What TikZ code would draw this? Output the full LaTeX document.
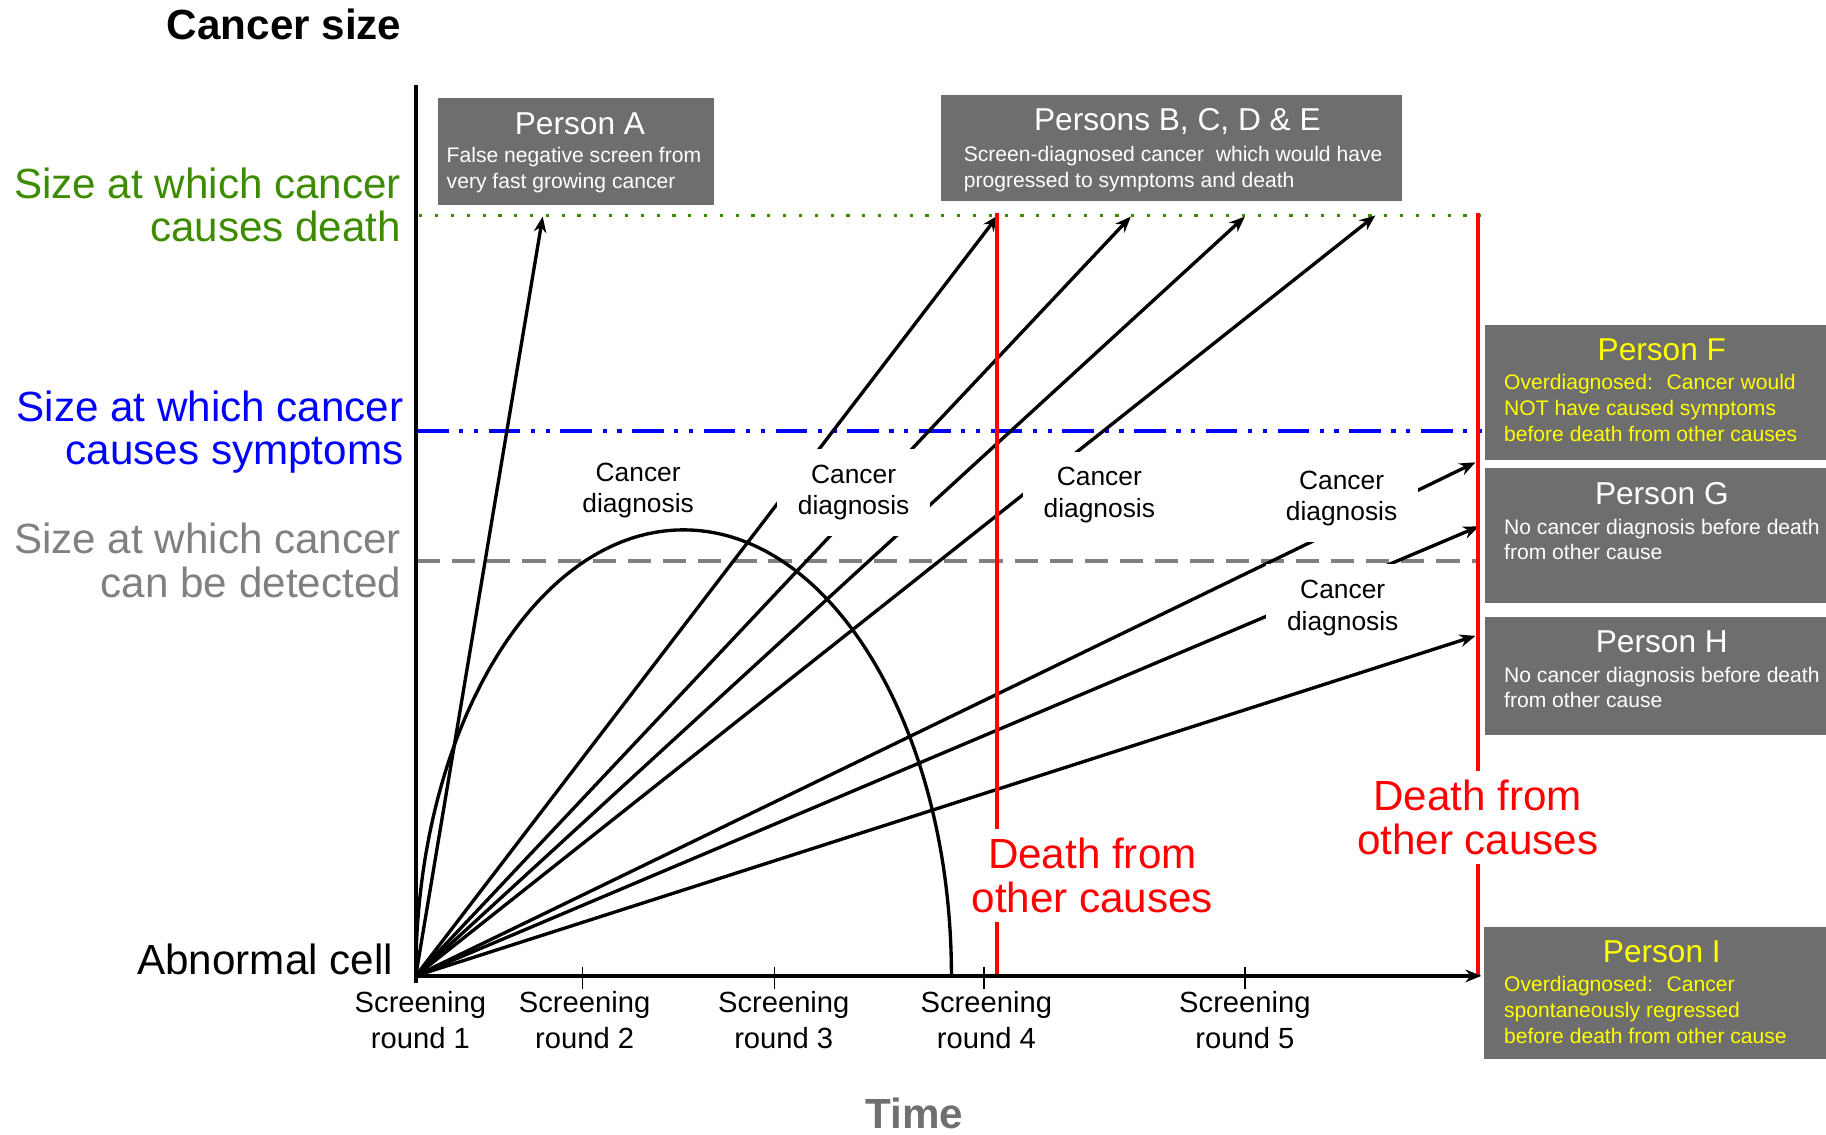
\documentclass[tikz,border=0pt]{standalone}
\usepackage{fontspec}
\setmainfont{Liberation Sans}
\usetikzlibrary{arrows.meta,calc}
\definecolor{deathgreen}{HTML}{3D8B00}
\definecolor{symptblue}{HTML}{0000FF}
\definecolor{detectgray}{HTML}{808080}
\definecolor{boxgray}{HTML}{6E6E6E}
\definecolor{otherred}{HTML}{FF0000}
\definecolor{timegray}{HTML}{707070}
\definecolor{overyellow}{HTML}{FFFF00}

\begin{document}
\begin{tikzpicture}[x=0.011645cm, y=0.011645cm,
  growth/.style={black, line width=0.95pt, -{Stealth[length=4.5pt,width=3.6pt]}},
  diag/.style={fill=white, align=center, inner xsep=6pt, inner ysep=4.5pt, font=\fontsize{7.5}{8.9}\selectfont},
  sizelbl/.style={font=\fontsize{12}{12.4}\selectfont, align=right, anchor=east, inner sep=0pt},
  death/.style={otherred, line width=0.95pt},
  deathtxt/.style={otherred, fill=white, align=center, inner sep=2.5pt, font=\fontsize{12}{12.6}\selectfont},
  roundlbl/.style={align=center, inner sep=0pt, font=\fontsize{8.3}{10.3}\selectfont},
  ptitle/.style={inner sep=0pt, font=\fontsize{9}{10}\selectfont},
  ptext/.style={inner sep=0pt, anchor=north west, align=left, font=\fontsize{6}{7.3}\selectfont}]
  \useasboundingbox (0,0) rectangle (1568,974);

  % Axis titles
  \node[font=\fontsize{12}{14}\selectfont\bfseries] (ysize) at (244,953) {Cancer size};
  \node[font=\fontsize{12}{14}\selectfont\bfseries, timegray] (xtime) at (785,18) {Time};

  % Size levels
  \node[sizelbl, deathgreen] (lvldeath) at (345,798) {Size at which cancer\\causes death};
  \node[sizelbl, symptblue] (lvlsympt) at (347,603) {Size at which cancer\\causes symptoms};
  \node[sizelbl, detectgray] (lvldetect) at (345,493) {Size at which cancer\\can be detected};
  \node[sizelbl] (abncell) at (338,150) {Abnormal cell};

  \draw[deathgreen, line width=0.9pt, dash pattern=on 0.9pt off 3.6pt] (360,789) -- (1272,789);
  \draw[symptblue, line width=1.1pt, dash pattern=on 9pt off 3pt on 1.2pt off 3pt on 1.2pt off 3pt] (358,604) -- (1275,604);
  \draw[detectgray, line width=1.1pt, dash pattern=on 6.6pt off 3.4pt] (358,492) -- (1270,492);

  % Growth paths
  \coordinate (O) at (357,136);
  \coordinate (tipA) at (466,788);
  \coordinate (tipB) at (857,789);
  \coordinate (tipC) at (971,788);
  \coordinate (tipD) at (1069,788);
  \coordinate (tipE) at (1181,789);
  \coordinate (tipF) at (1267,577);
  \coordinate (tipG) at (1270,522);
  \coordinate (tipH) at (1267,428);
  \coordinate (tipI) at (1272,136);

  \draw[growth] (O) -- (tipA);
  \draw[growth] (O) -- (tipB);
  \draw[growth] (O) -- (tipC);
  \draw[growth] (O) -- (tipD);
  \draw[growth] (O) -- (tipE);
  \draw[growth] (O) -- (tipF);
  \draw[growth] (O) -- (tipG);
  \draw[growth] (O) -- (tipH);
  \draw[black, line width=0.95pt] (O) arc[start angle=180, end angle=0, x radius=230, y radius=383];

  % Deaths from other causes
  \draw[death] (856,791) -- (856,136);
  \draw[death] (1269,791) -- (1269,136);

  % Axes
  \draw[black, line width=1.1pt] (357,130) -- (357,901);
  \draw[black, line width=1.2pt, -{Stealth[length=4.5pt,width=3.6pt]}] (O) -- (tipI);
  \draw[black, line width=0.4pt] (500,144) -- (500,125);
  \draw[black, line width=0.4pt] (665,144) -- (665,125);
  \draw[black, line width=0.4pt] (845,144) -- (845,125);
  \draw[black, line width=0.4pt] (1069,144) -- (1069,125);

  \node[roundlbl] (round1) at (361,98) {Screening\\round 1};
  \node[roundlbl] (round2) at (502,98) {Screening\\round 2};
  \node[roundlbl] (round3) at (673,98) {Screening\\round 3};
  \node[roundlbl] (round4) at (847,98) {Screening\\round 4};
  \node[roundlbl] (round5) at (1069,98) {Screening\\round 5};

  % Diagnosis labels
  \node[diag, fill=none] (diag1) at (548,553) {Cancer\\diagnosis};
  \node[diag] (diag2) at (733,551) {Cancer\\diagnosis};
  \node[diag] (diag3) at (944,549) {Cancer\\diagnosis};
  \node[diag] (diag4) at (1152,546) {Cancer\\diagnosis};
  \node[diag] (diag5) at (1153,452) {Cancer\\diagnosis};

  \node[deathtxt] (death1) at (938,222) {Death from\\other causes};
  \node[deathtxt] (death2) at (1269,272) {Death from\\other causes};

  % Person boxes
  \fill[boxgray] (376,890) rectangle (613,798);
  \node[ptitle, white] (titleA) at (498,868) {Person A};
  \node[ptext, white] (textA) at (383,848) {False negative screen from\\very fast growing cancer};

  \fill[boxgray] (808,892) rectangle (1204,801);
  \node[ptitle, white] (titleBE) at (1011,870) {Persons B, C, D \& E};
  \node[ptext, white] (textBE) at (827,849) {Screen-diagnosed cancer~ which would have\\progressed to symptoms and death};

  \fill[boxgray] (1275,695) rectangle (1568,579);
  \node[ptitle, overyellow] (titleF) at (1427,674) {Person F};
  \node[ptext, overyellow] (textF) at (1291,653) {Overdiagnosed:~ Cancer would\\NOT have caused symptoms\\before death from other causes};

  \fill[boxgray] (1275,572) rectangle (1568,456);
  \node[ptitle, white] (titleG) at (1427,550) {Person G};
  \node[ptext, white] (textG) at (1291,529) {No cancer diagnosis before death\\from other cause};

  \fill[boxgray] (1275,444) rectangle (1568,343);
  \node[ptitle, white] (titleH) at (1427,423) {Person H};
  \node[ptext, white] (textH) at (1291,402) {No cancer diagnosis before death\\from other cause};

  \fill[boxgray] (1274,178) rectangle (1568,65);
  \node[ptitle, overyellow] (titleI) at (1427,157) {Person I};
  \node[ptext, overyellow] (textI) at (1291,136) {Overdiagnosed:~ Cancer\\spontaneously regressed\\before death from other cause};
\end{tikzpicture}
\end{document}
